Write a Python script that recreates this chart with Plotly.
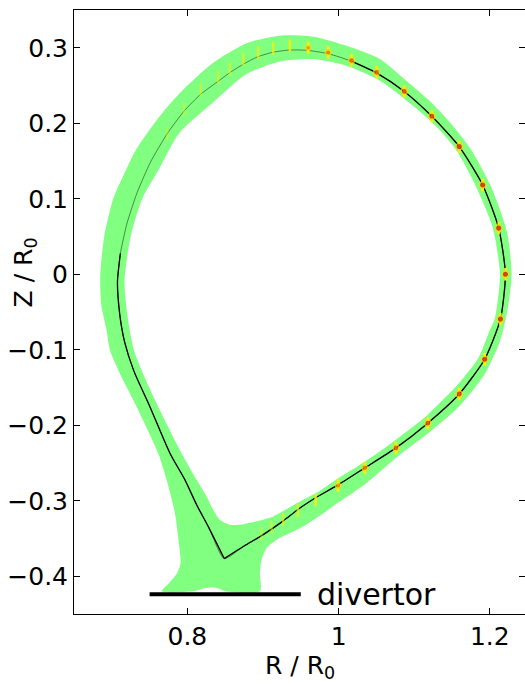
import plotly.graph_objects as go

# ---------------- data ----------------
# separatrix: starts at X-point, goes along lower-right, around top, down left leg back to X-point
SEP_R = [0.8487, 0.8750, 0.9003, 0.9250, 0.9488, 0.9696, 0.9993, 1.0347, 1.0759, 1.1180,
         1.1596, 1.1933, 1.2141, 1.2207, 1.2118, 1.1906, 1.1596, 1.1233, 1.0869, 1.0506,
         1.0161, 0.9869, 0.9594, 0.9354, 0.9129, 0.8930, 0.8753, 0.8576, 0.8399, 0.8177,
         0.7955, 0.7734, 0.7513, 0.7336, 0.7203, 0.7114, 0.7075, 0.7105, 0.7170, 0.7291,
         0.7504, 0.7769, 0.7967, 0.8122, 0.8283, 0.8487]
SEP_Z = [-0.3766, -0.3600, -0.3449, -0.3280, -0.3097, -0.2960, -0.2790, -0.2565, -0.2300, -0.1972,
         -0.1586, -0.1125, -0.0594, 0.0000, 0.0611, 0.1182, 0.1690, 0.2093, 0.2422, 0.2664,
         0.2825, 0.2920, 0.2965, 0.2970, 0.2940, 0.2880, 0.2790, 0.2680, 0.2550, 0.2385,
         0.2160, 0.1863, 0.1488, 0.1084, 0.0681, 0.0277, -0.0100, -0.0531, -0.0900, -0.1280,
         -0.1754, -0.2370, -0.2722, -0.3053, -0.3356, -0.3766]

# outer boundary of the scrape-off layer band incl. divertor legs
OUT_R = [0.8959, 0.8959, 0.8981, 0.9048, 0.9180, 0.9356, 0.9550, 0.9750, 1.0000, 1.0350,
         1.0754, 1.1180, 1.1591, 1.1926, 1.2130, 1.2230, 1.2289, 1.2230, 1.2100, 1.2000,
         1.1760, 1.1500, 1.1200, 1.0900, 1.0546, 1.0106, 0.9664, 0.9224, 0.8783, 0.8341,
         0.7901, 0.7600, 0.7315, 0.7150, 0.7019, 0.6900, 0.6848, 0.6860, 0.6931, 0.6975,
         0.7100, 0.7328, 0.7614, 0.7725, 0.7835, 0.7892, 0.7910, 0.7865, 0.7759, 0.7659,
         0.8070, 0.8200, 0.8320, 0.8420, 0.8500, 0.8959]
OUT_Z = [-0.4200, -0.3956, -0.3780, -0.3625, -0.3515, -0.3427, -0.3330, -0.3200, -0.3020, -0.2780,
         -0.2436, -0.2110, -0.1754, -0.1335, -0.0900, -0.0500, 0.0000, 0.0550, 0.0950, 0.1199,
         0.1640, 0.1980, 0.2300, 0.2560, 0.2851, 0.3026, 0.3145, 0.3160, 0.3060, 0.2800,
         0.2400, 0.2050, 0.1640, 0.1300, 0.1000, 0.0500, 0.0000, -0.0400, -0.0740, -0.1004,
         -0.1300, -0.1754, -0.2370, -0.2722, -0.3163, -0.3604, -0.3824, -0.3956, -0.4088, -0.4200,
         -0.4200, -0.4165, -0.4146, -0.4165, -0.4200, -0.4200]

# inner boundary of the band (edge of the white core)
IN_R = [0.8430, 0.8562, 0.8694, 0.8915, 0.9135, 0.9488, 0.9750, 1.0000, 1.0350, 1.0754,
        1.1180, 1.1591, 1.1847, 1.2001, 1.2067, 1.2134, 1.2037, 1.1800, 1.1560, 1.1300,
        1.1000, 1.0546, 1.0106, 0.9664, 0.9224, 0.8783, 0.8341, 0.7901, 0.7755, 0.7600,
        0.7402, 0.7250, 0.7169, 0.7200, 0.7292, 0.7450, 0.7614, 0.7923, 0.8122, 0.8254,
        0.8341, 0.8430]
IN_Z = [-0.3251, -0.3317, -0.3317, -0.3273, -0.3207, -0.3009, -0.2870, -0.2700, -0.2480, -0.2194,
        -0.1860, -0.1445, -0.1114, -0.0740, -0.0586, 0.0000, 0.0625, 0.1199, 0.1640, 0.1950,
        0.2220, 0.2564, 0.2762, 0.2851, 0.2819, 0.2652, 0.2277, 0.1880, 0.1640, 0.1350,
        0.1000, 0.0500, -0.0080, -0.0500, -0.1004, -0.1400, -0.1754, -0.2370, -0.2722, -0.2943,
        -0.3119, -0.3251]

# deposition spots along the separatrix and their relative intensity
DOT_R = [0.7734, 0.7955, 0.8177, 0.8408, 0.8562, 0.8738, 0.8937, 0.9135, 0.9356, 0.9598,
         0.9862, 1.0171, 1.0503, 1.0869, 1.1233, 1.1596, 1.1906, 1.2118, 1.2207, 1.2141,
         1.1933, 1.1596, 1.1180, 1.0759, 1.0347, 0.9993, 0.9696, 0.9461, 0.9267, 0.9114, 0.8981]
DOT_Z = [0.1863, 0.2180, 0.2439, 0.2608, 0.2718, 0.2851, 0.2938, 0.2991, 0.3026, 0.3000,
         0.2938, 0.2832, 0.2674, 0.2422, 0.2093, 0.1690, 0.1182, 0.0611, 0.0000, -0.0594,
         -0.1125, -0.1586, -0.1972, -0.2300, -0.2565, -0.2800, -0.2990, -0.3130, -0.3250, -0.3350, -0.3440]
DOT_HEAT = [0.05, 0.10, 0.15, 0.20, 0.25, 0.30, 0.35, 0.40, 0.50, 0.60,
            0.70, 0.80, 0.85, 0.90, 0.95, 1.00, 1.00, 1.00, 1.00, 1.00,
            1.00, 0.95, 0.90, 0.85, 0.75, 0.65, 0.50, 0.40, 0.30, 0.20, 0.10]

DIV_R = [0.75, 0.95]
DIV_Z = [-0.424, -0.424]

X_TICKS = [0.8, 1.0, 1.2]
X_TICKTEXT = ["0.8", "1", "1.2"]
Y_TICKS = [-0.4, -0.3, -0.2, -0.1, 0.0, 0.1, 0.2, 0.3]
Y_TICKTEXT = ["\u22120.4", "\u22120.3", "\u22120.2", "\u22120.1", "0", "0.1", "0.2", "0.3"]

# ---------------- figure ----------------
FONT = "DejaVu Sans, Liberation Sans, Arial, sans-serif"
fig = go.Figure()

fig.add_trace(go.Scatter(x=OUT_R, y=OUT_Z, mode="lines", fill="toself",
                         fillcolor="#80ff80", line=dict(width=0, color="#80ff80", shape="spline", smoothing=0.7),
                         hoverinfo="skip", showlegend=False))
fig.add_trace(go.Scatter(x=IN_R, y=IN_Z, mode="lines", fill="toself",
                         fillcolor="white", line=dict(width=0, color="white", shape="spline", smoothing=0.7),
                         hoverinfo="skip", showlegend=False))

# faint full separatrix
fig.add_trace(go.Scatter(x=SEP_R, y=SEP_Z, mode="lines",
                         line=dict(width=1, color="rgba(0,0,0,0.45)", shape="spline", smoothing=0.6),
                         hoverinfo="skip", showlegend=False))
# solid parts of separatrix
i_top = SEP_R.index(1.0161)
i_left = SEP_Z.index(0.0277)
solid_R = SEP_R[:i_top + 1] + [None] + SEP_R[i_left:]
solid_Z = SEP_Z[:i_top + 1] + [None] + SEP_Z[i_left:]
fig.add_trace(go.Scatter(x=solid_R, y=solid_Z, mode="lines", connectgaps=False,
                         line=dict(width=1.3, color="black", shape="spline", smoothing=0.6),
                         hoverinfo="skip", showlegend=False))

# yellow dashes
fig.add_trace(go.Scatter(x=DOT_R, y=DOT_Z, mode="markers",
                         marker=dict(symbol="line-ns", size=9,
                                     opacity=[min(1.0, 0.25 + 1.2 * h) for h in DOT_HEAT],
                                     line=dict(color="#ffee00", width=2.5)),
                         hoverinfo="skip", showlegend=False))
# hot cores
hot_R = [r for r, h in zip(DOT_R, DOT_HEAT) if h >= 0.6]
hot_Z = [z for z, h in zip(DOT_Z, DOT_HEAT) if h >= 0.6]
hot_H = [h for h in DOT_HEAT if h >= 0.6]
fig.add_trace(go.Scatter(x=hot_R, y=hot_Z, mode="markers",
                         marker=dict(symbol="circle", size=[3 + 3.5 * h for h in hot_H],
                                     color=hot_H, cmin=0.5, cmax=1.0,
                                     colorscale=[[0, "#ff9900"], [1, "#d00000"]],
                                     line=dict(color="#ffdd00", width=1.4)),
                         hoverinfo="skip", showlegend=False))

# divertor bar
fig.add_trace(go.Scatter(x=DIV_R, y=DIV_Z, mode="lines",
                         line=dict(width=4, color="black"), hoverinfo="skip", showlegend=False))

fig.add_annotation(x=DIV_R[1] + 0.019, y=DIV_Z[0], xref="x", yref="y", text="divertor",
                   showarrow=False, xanchor="left", yanchor="middle",
                   font=dict(family=FONT, size=30, color="black"))

# axis titles as annotations
fig.add_annotation(x=-0.108, y=0.566, xref="paper", yref="paper",
                   text="Z / R<sub>0</sub>", textangle=-90, showarrow=False,
                   xanchor="center", yanchor="middle",
                   font=dict(family=FONT, size=25, color="black"))
fig.add_annotation(x=0.502, y=-0.058, xref="paper", yref="paper",
                   text="R / R<sub>0</sub>", showarrow=False,
                   xanchor="center", yanchor="top",
                   font=dict(family=FONT, size=25, color="black"))

fig.update_layout(
    width=525, height=684,
    margin=dict(l=74, r=0, t=10, b=70, autoexpand=False),
    paper_bgcolor="white", plot_bgcolor="white",
    showlegend=False,
    xaxis=dict(range=[0.65, 1.2466], tickvals=X_TICKS, ticktext=X_TICKTEXT,
               ticks="inside", ticklen=6, tickcolor="black", tickwidth=1,
               showline=True, linecolor="black", linewidth=1, mirror="ticks",
               showgrid=False, zeroline=False, automargin=False,
               tickfont=dict(family=FONT, size=25, color="black")),
    yaxis=dict(range=[-0.45, 0.35], tickvals=Y_TICKS, ticktext=Y_TICKTEXT,
               ticks="inside", ticklen=6, tickcolor="black", tickwidth=1,
               showline=True, linecolor="black", linewidth=1, mirror="ticks",
               showgrid=False, zeroline=False, automargin=False,
               tickfont=dict(family=FONT, size=25, color="black")),
)

fig.write_html("out.html", config={"displayModeBar": False},
               post_script="document.body.style.margin='0px';")
